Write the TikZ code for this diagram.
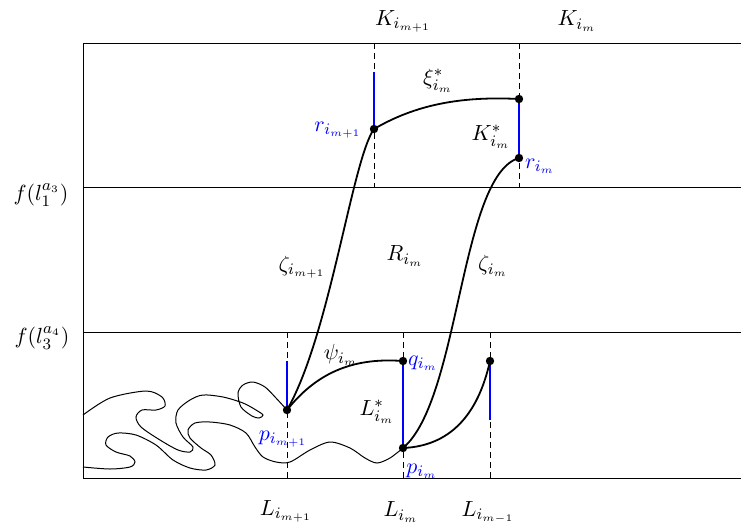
\documentclass[tikz,border=0pt]{standalone}
\begin{document}
\begin{tikzpicture}[x=0.5pt,y=-0.5pt,
  every node/.style={font=\fontsize{11}{13}\selectfont},
  frame/.style={line width=0.5pt},
  guide/.style={line width=0.4pt, dash pattern=on 3pt off 2pt},
  seg/.style={blue, line width=0.9pt},
  curve/.style={line width=0.9pt},
  wave/.style={line width=0.5pt},
  lab/.style={inner sep=0pt},
  blab/.style={blue, inner sep=0pt}]
\useasboundingbox (0,0) rectangle (741,527);
% frame
\coordinate (T0) at (83,43);   \coordinate (T1) at (741,43);
\coordinate (A0) at (83,187);  \coordinate (A1) at (741,187);
\coordinate (B0) at (83,332);  \coordinate (B1) at (741,332);
\coordinate (C0) at (83,478);  \coordinate (C1) at (741,478);
\draw[frame] (T1) -- (T0) -- (C0) -- (C1);
\draw[frame] (A0) -- (A1);
\draw[frame] (B0) -- (B1);
% points
\coordinate (r1) at (374,129);
\coordinate (t1) at (519,99);
\coordinate (rm) at (519,158);
\coordinate (p1) at (287,410);
\coordinate (qm) at (403,361);
\coordinate (pm) at (403,448);
\coordinate (sm) at (490,361);
% dashed guides
\draw[guide] (374,43) -- (374,187);
\draw[guide] (519,43) -- (519,187);
\draw[guide] (287,332) -- (287,478);
\draw[guide] (403,332) -- (403,478);
\draw[guide] (490,332) -- (490,478);
% blue segments
\draw[seg] (374,72) -- (r1);
\draw[seg] (t1) -- (rm);
\draw[seg] (287,361) -- (p1);
\draw[seg] (qm) -- (pm);
\draw[seg] (sm) -- (490,420);
% wavy curves
\draw[wave] plot[smooth, tension=0.5] coordinates {(83,415) (110,398) (146,391) (162,397) (165,406) (156,410) (142,410) (136,417) (141,427) (160,440) (178,450) (190,452) (193,447) (183,437) (176,423) (178,410) (190,400) (203,395) (223,397) (243,403) (256,410) (263,415) (259,418) (252,416) (241,407) (238,393) (243,385) (253,382) (265,387) (276,398) (287,410)};
\draw[wave] plot[smooth, tension=0.5] coordinates {(83,467) (110,469) (130,467) (135,462) (130,456) (116,452) (106,445) (108,437) (118,433) (136,435) (156,445) (173,460) (190,468) (206,470) (215,465) (211,455) (201,448) (190,438) (188,430) (195,423) (210,422) (230,425) (246,433) (255,447) (263,457) (276,462) (290,462) (310,450) (330,442) (350,448) (365,458) (377,463) (390,458) (403,448)};
% thick curves
\draw[curve] (r1) .. controls (415,105) and (460,96) .. (t1);
\draw[curve] (p1) .. controls (330,335) and (352,160) .. (r1);
\draw[curve] (p1) .. controls (315,375) and (350,357) .. (qm);
\draw[curve] (pm) .. controls (460,400) and (460,175) .. (rm);
\draw[curve] (pm) .. controls (450,446) and (478,415) .. (sm);
% dots
\foreach \pt in {r1,t1,rm,p1,qm,pm,sm} \fill (\pt) circle (2.1pt);
% labels
\node[lab] (lK1) at (403,21) {$K_{i_{m+1}}$};
\node[lab] (lKm) at (577,21) {$K_{i_m}$};
\node[lab] (lxi) at (438,81) {$\xi^*_{i_m}$};
\node[blab] (lr1) at (338,130) {$r_{i_{m+1}}$};
\node[lab] (lKs) at (491,137) {$K^*_{i_m}$};
\node[blab] (lrm) at (540,166) {$r_{i_m}$};
\node[lab] (lf1) at (41,195) {$f(l_1^{a_3})$};
\node[lab] (lf3) at (42,338) {$f(l_3^{a_4})$};
\node[lab] (lz1) at (302,267) {$\zeta_{i_{m+1}}$};
\node[lab] (lR) at (405,256) {$R_{i_m}$};
\node[lab] (lzm) at (493,266) {$\zeta_{i_m}$};
\node[lab] (lpsi) at (341,355) {$\psi_{i_m}$};
\node[blab] (lqm) at (423,363) {$q_{i_m}$};
\node[lab] (lLs) at (377,412) {$L^*_{i_m}$};
\node[blab] (lp1) at (283,439) {$p_{i_{m+1}}$};
\node[blab] (lpm) at (422,471) {$p_{i_m}$};
\node[lab] (lL1) at (286,511) {$L_{i_{m+1}}$};
\node[lab] (lLm) at (401,512) {$L_{i_m}$};
\node[lab] (lLm1) at (488,512) {$L_{i_{m-1}}$};
\end{tikzpicture}
\end{document}
